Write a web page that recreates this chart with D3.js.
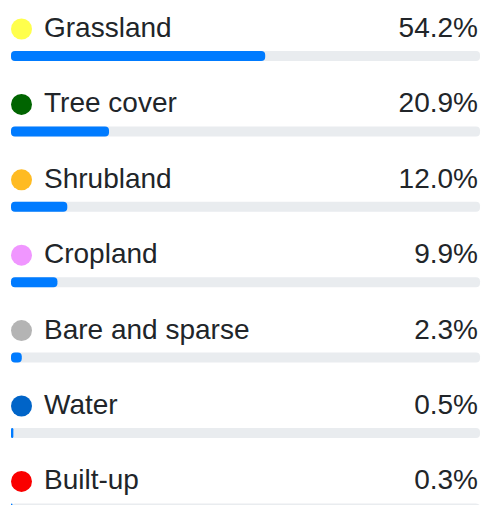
<!DOCTYPE html>
<html>
<head>
<meta charset="utf-8">
<script src="https://cdn.jsdelivr.net/npm/d3@7"></script>
<style>
  html, body { margin: 0; padding: 0; background: #fff; }
  svg { display: block; font-family: "Liberation Sans", Arial, sans-serif; }
</style>
</head>
<body>
<div id="chart"></div>
<script>
// land cover classes and their share of area (%)
const categories = ["Grassland", "Tree cover", "Shrubland", "Cropland", "Bare and sparse", "Water", "Built-up"];
const shares = [54.2, 20.9, 12.0, 9.9, 2.3, 0.5, 0.3];
const dotColors = ["#ffff4c", "#006400", "#ffbb22", "#f096ff", "#b4b4b4", "#0064c8", "#fa0000"];

const width = 482, height = 505;
const rowH = 75.4;

const rows = categories.map((c, i) => ({name: c, value: shares[i], color: dotColors[i]}));

const svg = d3.select("#chart")
    .append("svg")
      .attr("width", width)
      .attr("height", height);

// each row gets a band
const y = d3.scaleBand()
    .domain(categories)
    .range([0, rowH * categories.length])
    .paddingInner(0)
    .paddingOuter(0);

// progress bar scale, 0-100%
const x = d3.scaleLinear()
    .domain([0, 100])
    .range([11, 480]);

const row = svg.selectAll("g.row")
    .data(rows)
    .enter()
    .append("g")
      .attr("class", "row")
      .attr("transform", d => "translate(0," + y(d.name) + ")");

row.append("circle")
    .attr("cx", 21.5)
    .attr("cy", 29)
    .attr("r", 10.5)
    .attr("fill", d => d.color);

row.append("text")
    .attr("x", 44)
    .attr("y", 37)
    .attr("font-size", 28)
    .attr("fill", "#212529")
    .text(d => d.name);

row.append("text")
    .attr("x", 478)
    .attr("y", 37)
    .attr("text-anchor", "end")
    .attr("font-size", 28)
    .attr("fill", "#212529")
    .text(d => d.value.toFixed(1) + "%");

// grey track
row.append("rect")
    .attr("x", x(0))
    .attr("y", 51)
    .attr("width", x(100) - x(0))
    .attr("height", 10)
    .attr("rx", 4)
    .attr("fill", "#e9ecef");

// blue fill
row.append("rect")
    .attr("x", x(0))
    .attr("y", 51)
    .attr("width", d => x(d.value) - x(0))
    .attr("height", 10)
    .attr("rx", d => Math.min(4, (x(d.value) - x(0)) / 2))
    .attr("fill", "#007bff");
</script>
</body>
</html>
